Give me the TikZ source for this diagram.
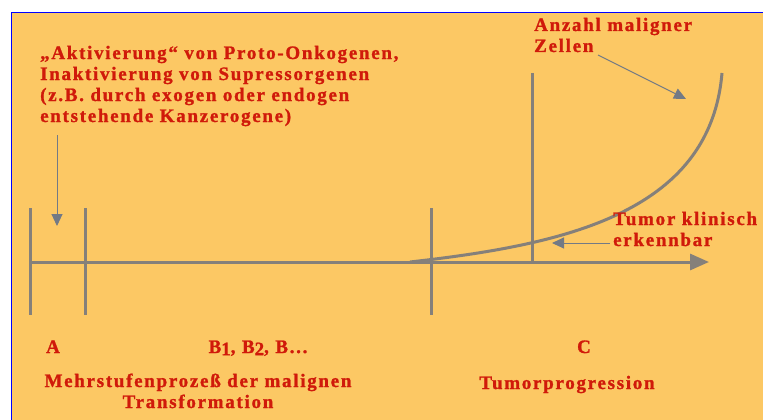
\documentclass[tikz,border=0pt]{standalone}
\usepackage{fontspec}
\setmainfont{Liberation Serif}
\newfontfamily\labfont[LetterSpace=9,FakeBold=1.2]{Liberation Serif Bold}
\usetikzlibrary{arrows.meta}
\definecolor{bgorange}{HTML}{FCC864}
\definecolor{txtred}{HTML}{D01A0A}
\definecolor{linegray}{HTML}{85807A}
\definecolor{arrowgray}{HTML}{737A85}
\begin{document}
\begin{tikzpicture}[x=1pt,y=-1pt,
  lab/.style={text=txtred,font=\labfont\fontsize{19}{21}\selectfont,inner sep=0pt},
  thick line/.style={draw=linegray,line width=3pt},
  thin arrow/.style={draw=arrowgray,line width=1pt,-{Triangle[length=12pt,width=11pt]}}]
\useasboundingbox (0,0) rectangle (763,420);
\fill[white] (0,0) rectangle (763,420);
\fill[bgorange] (11,13) rectangle (763,420);
\draw[blue,line width=1pt] (11,420) -- (11,13) -- (763,13);
% ticks and axis
\coordinate (t1a) at (30,208); \coordinate (t1b) at (30,315);
\coordinate (t2a) at (85,208); \coordinate (t2b) at (85,315);
\coordinate (t3a) at (431,208); \coordinate (t3b) at (431,315);
\coordinate (ax0) at (30,262); \coordinate (ax1) at (709,262);
\coordinate (vt) at (532,73); \coordinate (vb) at (532,262);
\draw[thick line] (t1a) -- (t1b);
\draw[thick line] (t2a) -- (t2b);
\draw[thick line] (t3a) -- (t3b);
\draw[thick line] (vt) -- (vb);
\draw[thick line,-{Triangle[length=19pt,width=16pt]}] (ax0) -- (ax1);
% curve
\coordinate (c0) at (410,262); \coordinate (c1) at (722,73);
\draw[thick line] (c0) .. controls (560,245) and (710,215) .. (c1);
% texts (base anchor = baseline of last line)
\node[lab,anchor=base west,align=left] (akt) at (40,122) {„Aktivierung“ von Proto-Onkogenen,\\Inaktivierung von Supressorgenen\\(z.B. durch exogen oder endogen\\entstehende Kanzerogene)};
\node[lab,anchor=base west,align=left] (anz) at (534,52) {Anzahl maligner\\Zellen};
\node[lab,anchor=base west,align=left] (tum) at (613,246) {Tumor klinisch\\erkennbar};
\node[lab,anchor=base] (A) at (53,353) {A};
\node[lab,anchor=base] (B) at (258,353) {B\raisebox{-0.25ex}{1}, B\raisebox{-0.25ex}{2}, B...};
\node[lab,anchor=base] (C) at (584,353) {C};
\node[lab,anchor=base,align=center] (mehr) at (198,408) {Mehrstufenprozeß der malignen\\Transformation};
\node[lab,anchor=base] (prog) at (567,389) {Tumorprogression};
% arrows
\coordinate (d0) at (57,135); \coordinate (d1) at (57,226);
\draw[thin arrow] (d0) -- (d1);
\coordinate (z0) at (598,55); \coordinate (z1) at (686,99);
\draw[thin arrow] (z0) -- (z1);
\coordinate (k0) at (610,243); \coordinate (k1) at (552,243);
\draw[thin arrow] (k0) -- (k1);
\end{tikzpicture}
\end{document}
